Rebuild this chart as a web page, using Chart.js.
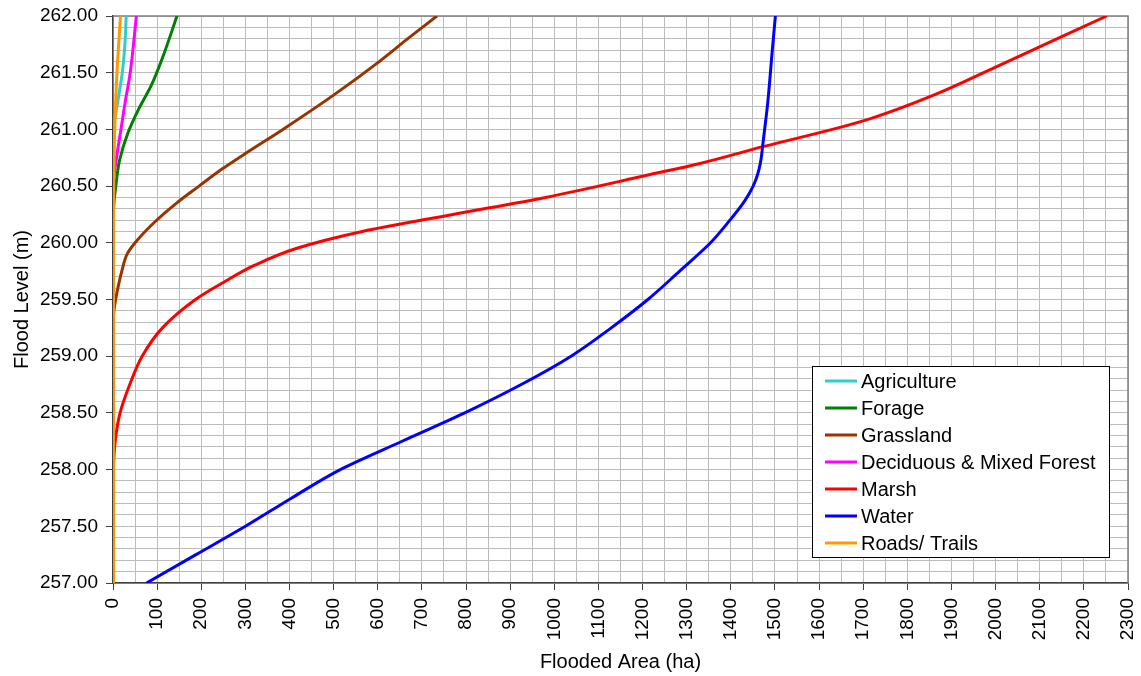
<!DOCTYPE html>
<html>
<head>
<meta charset="utf-8">
<script src="https://cdn.jsdelivr.net/npm/chart.js@4/dist/chart.umd.min.js"></script>
<style>
  body { margin: 0; background: #fff; }
</style>
</head>
<body>
<canvas id="floodChart" width="1141" height="676"></canvas>
<script>
// flood level (m) vs flooded area (ha)
const agricultureLevel = [257.0, 260.9, 261.0, 261.25, 261.5, 261.75, 262.0];
const agricultureArea  = [0, 0, 1, 11, 21, 27, 30];

const forageLevel = [257.0, 260.2, 260.3, 260.49, 260.73, 260.97, 261.17, 261.39, 261.64, 262.0];
const forageArea  = [0, 0, 1, 6, 15, 34, 57, 87, 113, 145];

const grasslandLevel = [257.0, 259.2, 259.4, 259.5, 259.6, 259.75, 259.9, 260.0, 260.17, 260.35, 260.5, 260.65, 260.8, 261.0, 261.3, 261.6, 261.8, 262.0];
const grasslandArea  = [0, 0, 2, 6, 11, 20, 32, 50, 91, 144, 195, 247, 305, 385, 499, 604, 668, 734];

const forestLevel = [257.0, 260.5, 260.75, 261.0, 261.25, 261.5, 262.0];
const forestArea  = [0, 0.5, 8, 18, 28, 39, 53];

const marshLevel = [257.0, 257.5, 258.0, 258.25, 258.5, 258.75, 259.0, 259.25, 259.5, 259.65, 259.8, 259.95, 260.1, 260.25, 260.4, 260.6, 260.7, 260.85, 261.0, 261.1, 261.3, 261.55, 261.8, 262.0];
const marshArea  = [0, 0, 1, 5, 16, 38, 66, 112, 187, 250, 320, 415, 565, 770, 980, 1215, 1330, 1475, 1630, 1720, 1858, 2000, 2140, 2252];

const waterLevel = [257.0, 257.25, 257.5, 257.75, 258.0, 258.25, 258.5, 258.75, 259.0, 259.25, 259.5, 259.75, 260.0, 260.2, 260.35, 260.45, 260.55, 260.65, 260.75, 260.85, 261.25, 261.7, 262.0];
const waterArea  = [76, 188, 300, 405, 515, 655, 797, 925, 1038, 1129, 1212, 1284, 1354, 1398, 1428, 1444, 1456, 1464, 1469, 1472, 1484, 1494, 1501];

const roadsLevel = [257.0, 260.0, 260.5, 261.0, 261.5, 262.0];
const roadsArea  = [1, 1, 1.5, 4, 9, 17];

const seriesNames  = ['Agriculture', 'Forage', 'Grassland', 'Deciduous & Mixed Forest', 'Marsh', 'Water', 'Roads/ Trails'];
const seriesColors = ['#33CCCC', '#008000', '#993300', '#FF00FF', '#FF0000', '#0000FF', '#FF9900'];
const seriesLevels = [agricultureLevel, forageLevel, grasslandLevel, forestLevel, marshLevel, waterLevel, roadsLevel];
const seriesAreas  = [agricultureArea, forageArea, grasslandArea, forestArea, marshArea, waterArea, roadsArea];

const FONT = "'Liberation Sans', Arial, sans-serif";

const datasets = seriesNames.map((name, i) => ({
  label: name,
  data: seriesLevels[i].map((lv, j) => ({ x: seriesAreas[i][j], y: lv })),
  borderColor: seriesColors[i],
  backgroundColor: seriesColors[i],
  borderWidth: 3,
  pointRadius: 0,
  fill: false,
  cubicInterpolationMode: 'monotone',
  order: seriesNames.length - 1 - i // later series on top, like the original
}));

const isMajorY = v => Math.abs(v * 2 - Math.round(v * 2)) < 1e-6;
const isMajorX = v => Math.abs(v / 100 - Math.round(v / 100)) < 1e-6;

// frame on top/right edges + boxed legend inside the plot
const frameAndLegend = {
  id: 'frameAndLegend',
  beforeDatasetsDraw(chart) {
    const { ctx, chartArea: a } = chart;
    ctx.save();
    ctx.strokeStyle = '#808080';
    ctx.lineWidth = 1.5;
    ctx.beginPath();
    ctx.moveTo(a.left, a.top);
    ctx.lineTo(a.right, a.top);
    ctx.lineTo(a.right, a.bottom);
    ctx.stroke();
    ctx.restore();
  },
  afterDraw(chart) {
    const ctx = chart.ctx;
    const bx = 812.5, by = 366.5, bw = 297, bh = 191;
    ctx.save();
    ctx.fillStyle = '#fff';
    ctx.fillRect(bx, by, bw, bh);
    ctx.strokeStyle = '#000';
    ctx.lineWidth = 1;
    ctx.strokeRect(bx, by, bw, bh);
    ctx.font = '20px ' + FONT;
    ctx.textBaseline = 'middle';
    ctx.fillStyle = '#000';
    chart.data.datasets.forEach((ds, i) => {
      const y = 381 + i * 27;
      ctx.strokeStyle = ds.borderColor;
      ctx.lineWidth = 3;
      ctx.beginPath();
      ctx.moveTo(825, y);
      ctx.lineTo(857, y);
      ctx.stroke();
      ctx.fillText(ds.label, 861, y + 1);
    });
    ctx.restore();
  }
};

new Chart(document.getElementById('floodChart'), {
  type: 'line',
  data: { datasets: datasets },
  options: {
    responsive: false,
    animation: false,
    indexAxis: 'y',
    layout: { padding: { top: 16, right: 13, left: 0, bottom: 0 } },
    plugins: {
      legend: { display: false },
      tooltip: { enabled: false }
    },
    scales: {
      x: {
        type: 'linear',
        position: 'bottom',
        min: 0,
        max: 2300,
        afterFit: s => { s.height = 93; s.paddingLeft = 0; s.paddingRight = 0; },
        ticks: {
          stepSize: 50,
          autoSkip: false,
          minRotation: 90,
          maxRotation: 90,
          padding: 8,
          color: '#000',
          font: { family: FONT, size: 19 },
          callback: v => isMajorX(v) ? String(Math.round(v)) : ''
        },
        grid: {
          color: '#bcbcbc',
          lineWidth: 1,
          tickLength: 7,
          tickColor: c => (c.tick && isMajorX(c.tick.value)) ? '#404040' : 'rgba(0,0,0,0)'
        },
        border: { color: '#404040', width: 1.5 },
        title: {
          display: true,
          text: 'Flooded Area (ha)',
          color: '#000',
          font: { family: FONT, size: 20 },
          padding: { top: 0, bottom: 2 }
        }
      },
      y: {
        type: 'linear',
        position: 'left',
        min: 257,
        max: 262,
        afterFit: s => { s.width = 113; s.paddingTop = 0; s.paddingBottom = 0; },
        ticks: {
          stepSize: 0.1,
          autoSkip: false,
          padding: 8,
          color: '#000',
          font: { family: FONT, size: 19 },
          callback: v => isMajorY(v) ? v.toFixed(2) : ''
        },
        grid: {
          color: '#bcbcbc',
          lineWidth: 1,
          tickLength: 7,
          tickColor: c => (c.tick && isMajorY(c.tick.value)) ? '#404040' : 'rgba(0,0,0,0)'
        },
        border: { color: '#404040', width: 1.5 },
        title: {
          display: true,
          text: 'Flood Level (m)',
          color: '#000',
          font: { family: FONT, size: 20 },
          padding: { top: 10, bottom: 0 }
        }
      }
    }
  },
  plugins: [frameAndLegend]
});
</script>
</body>
</html>
